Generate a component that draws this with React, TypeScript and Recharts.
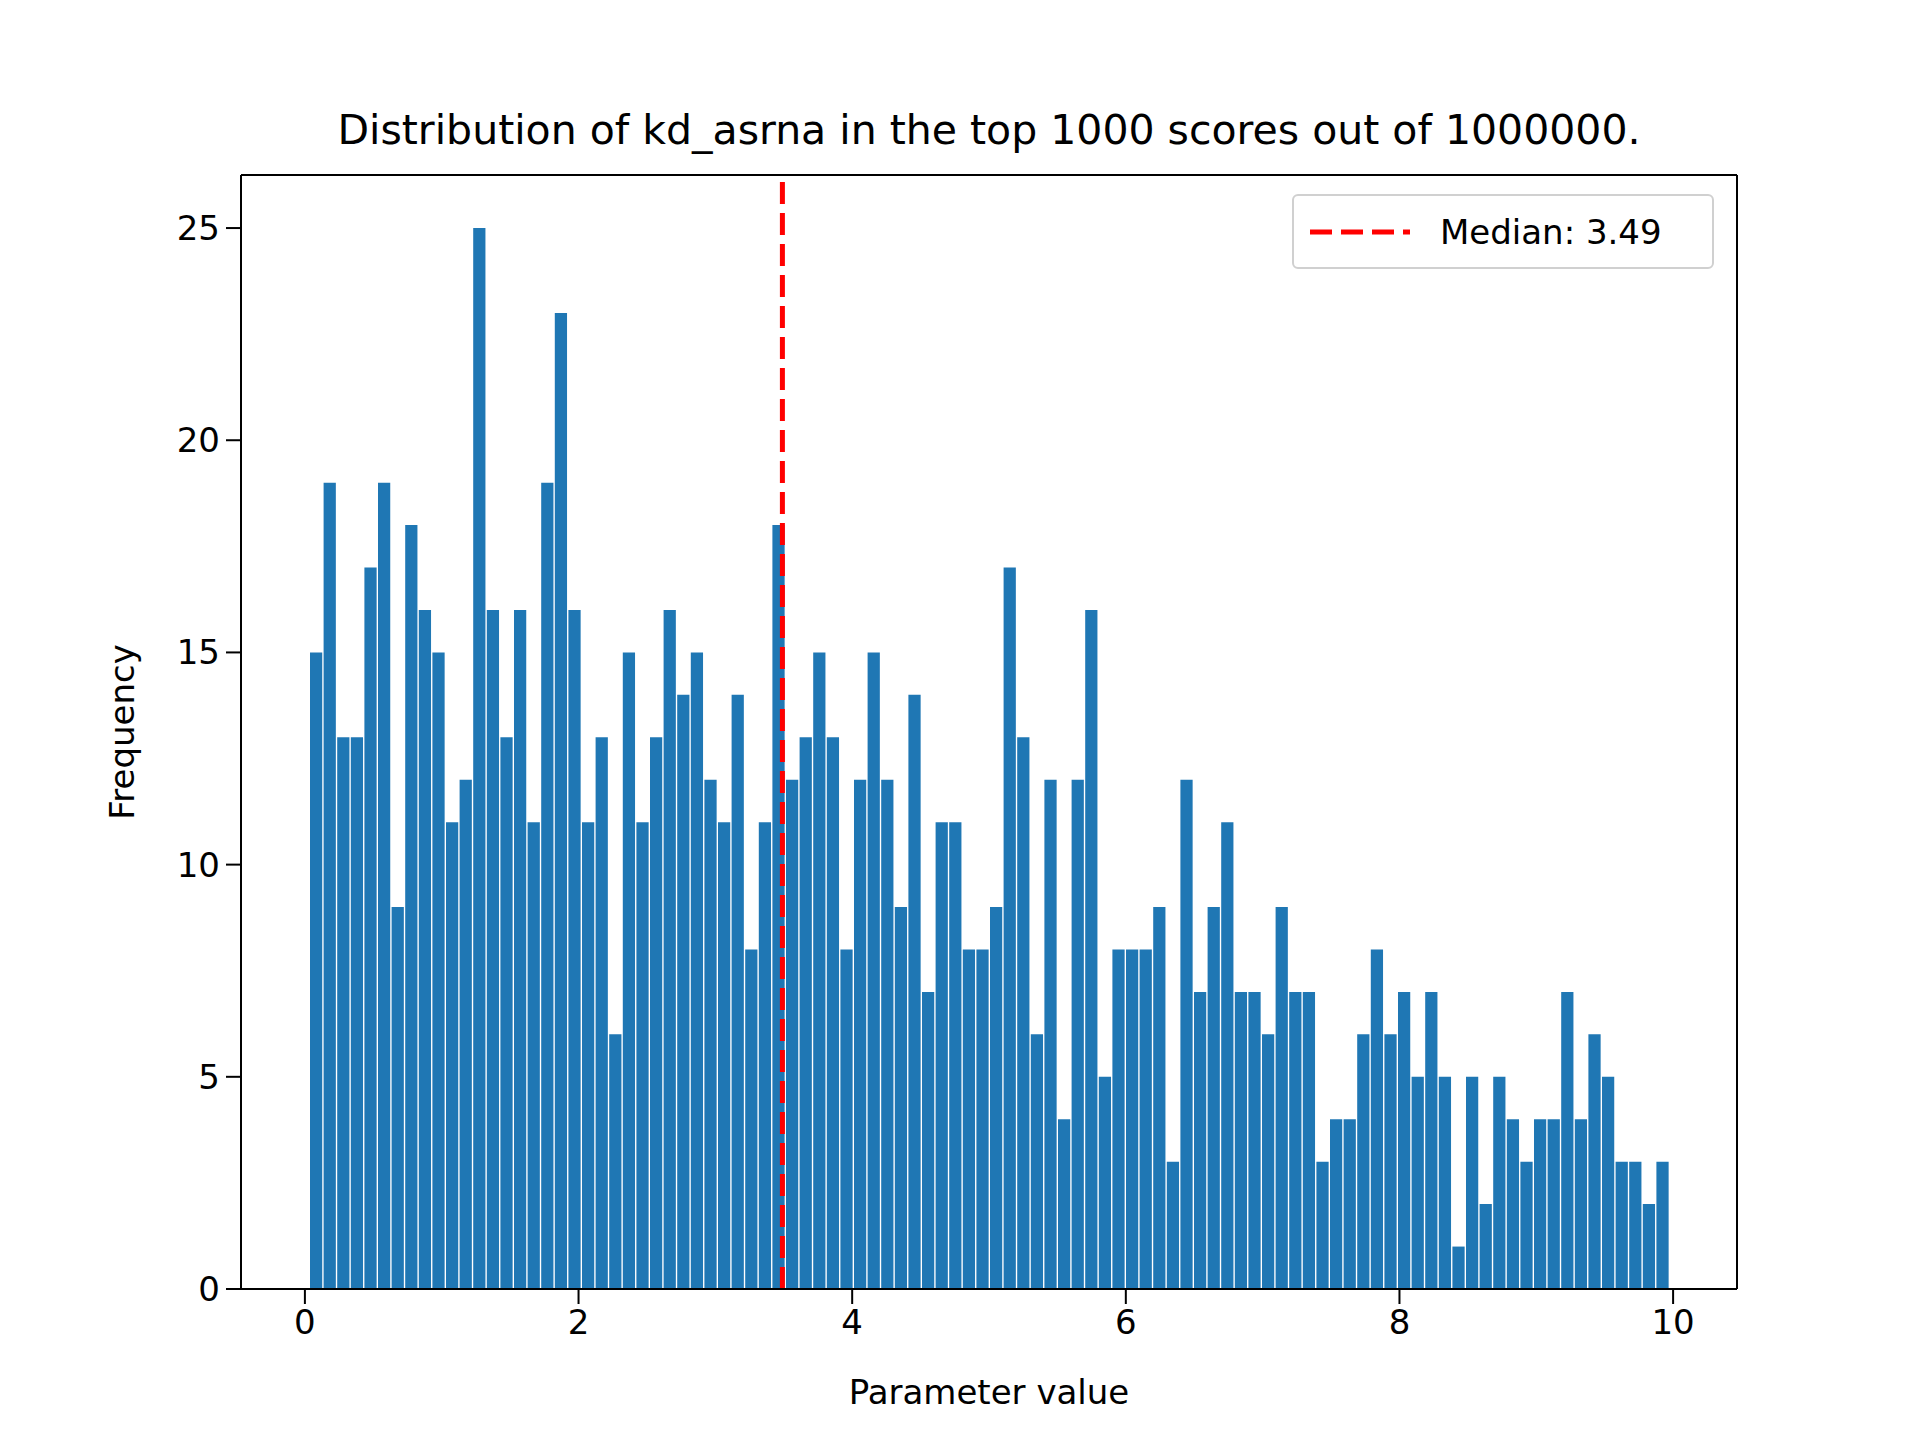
import React from "react";
import {
  ComposedChart,
  Bar,
  XAxis,
  YAxis,
  ReferenceLine,
} from "recharts";

// histogram counts, 100 equal bins between binMin and binMax
const counts = [
  15, 19, 13, 13, 17, 19, 9, 18, 16, 15,
  11, 12, 25, 16, 13, 16, 11, 19, 23, 16,
  11, 13, 6, 15, 11, 13, 16, 14, 15, 12,
  11, 14, 8, 11, 18, 12, 13, 15, 13, 8,
  12, 15, 12, 9, 14, 7, 11, 11, 8, 8,
  9, 17, 13, 6, 12, 4, 12, 16, 5, 8,
  8, 8, 9, 3, 12, 7, 9, 11, 7, 7,
  6, 9, 7, 7, 3, 4, 4, 6, 8, 6,
  7, 5, 7, 5, 1, 5, 2, 5, 4, 3,
  4, 4, 7, 4, 6, 5, 3, 3, 2, 3,
];
const binMin = 0.03;
const binMax = 9.97;
const median = 3.49;
const xTicks = [0, 2, 4, 6, 8, 10];
const yTicks = [0, 5, 10, 15, 20, 25];

const W = 1920;
const H = 1440;
const plotLeft = 241;
const plotRight = 1737;
const plotTop = 175;
const plotBottom = 1289;

const binWidth = (binMax - binMin) / counts.length;
const pad = (binMax - binMin) * 0.05;
const xDomain = [binMin - pad, binMax + pad];
const yMax = Math.max(...counts) * 1.05;

const data = counts.map((c, i) => ({
  x: binMin + (i + 0.5) * binWidth,
  count: c,
}));

const barSize =
  ((plotRight - plotLeft) * binWidth) / (xDomain[1] - xDomain[0]) + 0.6;

const font = "'DejaVu Sans', sans-serif";
const tick = { fontSize: 34, fill: "#000", fontFamily: font };

export default function App() {
  return (
    <div style={{ position: "absolute", left: 0, top: 0, width: W, height: H, background: "#fff" }}>
      <ComposedChart
        width={W}
        height={H}
        data={data}
        margin={{ top: plotTop, left: plotLeft - 80, right: W - plotRight, bottom: H - plotBottom - 80 }}
      >
        <XAxis
          dataKey="x"
          type="number"
          domain={xDomain}
          ticks={xTicks}
          height={80}
          tick={tick}
          tickSize={15}
          tickMargin={6}
          stroke="#000"
          strokeWidth={2}
          allowDataOverflow
        />
        <YAxis
          type="number"
          domain={[0, yMax]}
          ticks={yTicks}
          width={80}
          tick={tick}
          tickSize={15}
          tickMargin={6}
          stroke="#000"
          strokeWidth={2}
          allowDataOverflow
        />
        <Bar dataKey="count" fill="#1f77b4" barSize={barSize} isAnimationActive={false} />
        <ReferenceLine x={xDomain[1]} stroke="#000" strokeWidth={2} />
        <ReferenceLine y={yMax} stroke="#000" strokeWidth={2} />
        <ReferenceLine
          x={median}
          stroke="#ff0000"
          strokeWidth={5}
          strokeDasharray="22 9"
        />
      </ComposedChart>

      <div style={{ position: "absolute", top: 106, left: plotLeft, width: plotRight - plotLeft, textAlign: "center", fontFamily: font, fontSize: 41 }}>
        Distribution of kd_asrna in the top 1000 scores out of 1000000.
      </div>
      <div style={{ position: "absolute", top: 1372, left: plotLeft, width: plotRight - plotLeft, textAlign: "center", fontFamily: font, fontSize: 34 }}>
        Parameter value
      </div>
      <div
        style={{
          position: "absolute",
          left: 122,
          top: (plotTop + plotBottom) / 2,
          transform: "translate(-50%, -50%) rotate(-90deg)",
          fontFamily: font,
          fontSize: 34,
          whiteSpace: "nowrap",
        }}
      >
        Frequency
      </div>
      <div
        style={{
          position: "absolute",
          left: 1292,
          top: 194,
          width: 422,
          height: 75,
          boxSizing: "border-box",
          border: "2px solid #d0d0d0",
          borderRadius: 6,
          background: "#fff",
          display: "flex",
          alignItems: "center",
          fontFamily: font,
          fontSize: 34,
        }}
      >
        <svg width={100} height={20} style={{ marginLeft: 16, marginRight: 30 }}>
          <line x1={0} y1={10} x2={100} y2={10} stroke="#ff0000" strokeWidth={5} strokeDasharray="22 9" />
        </svg>
        Median: 3.49
      </div>
    </div>
  );
}
